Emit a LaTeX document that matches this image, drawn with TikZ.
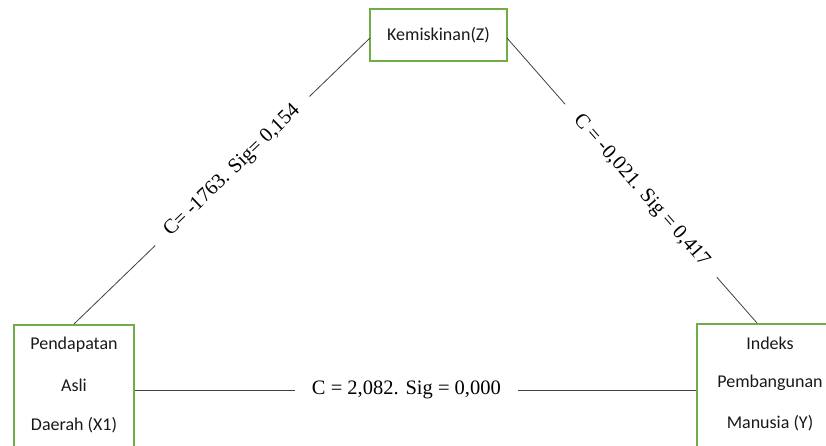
\documentclass[tikz,border=0pt]{standalone}
\usepackage{fontspec}
\setmainfont{Liberation Serif}
\newfontfamily\boxfont{Carlito}
\definecolor{boxgreen}{HTML}{70AD47}
\definecolor{linegray}{HTML}{404040}
\begin{document}
\begin{tikzpicture}[x=1pt,y=-1pt,
  varbox/.style={draw=boxgreen,line width=1.5pt,rectangle,inner sep=0pt,
    font=\boxfont\fontsize{18}{40}\selectfont,align=center,text=black!90},
  boxtext/.style={font=\boxfont\fontsize{18}{20}\selectfont,text=black!90},
  conn/.style={draw=linegray,line width=0.8pt},
  lbl/.style={fill=white,inner xsep=17pt,inner ysep=2pt,
    font=\fontsize{20.5}{24}\selectfont,text=black}]
\useasboundingbox (0,0) rectangle (826,446);
\clip (0,0) rectangle (826,446);
\node[varbox,minimum width=137pt,minimum height=52pt] (Z) at (438.5,35) {Kemiskinan(Z)};
\node[varbox,minimum width=120pt,minimum height=150pt,anchor=north] (X1) at (74,324) {};
\node[varbox,minimum width=150pt,minimum height=150pt,anchor=north west] (Y) at (696,323) {};
\node[boxtext] (x1a) at (74,345) {Pendapatan};
\node[boxtext] (x1b) at (74,385) {Asli};
\node[boxtext] (x1c) at (74,425) {Daerah (X1)};
\node[boxtext] (ya) at (770,343) {Indeks};
\node[boxtext] (yb) at (770,383) {Pembangunan};
\node[boxtext] (yc) at (770,423) {Manusia (Y)};
\coordinate (Yin) at (757,323);
\coordinate (Zl) at (370,38);
\coordinate (Zr) at (507,38);
\draw[conn] (X1.north) -- node[lbl,sloped,pos=0.535] (l1) {C= -1763. Sig= 0,154} (Zl);
\draw[conn] (Zr) -- node[lbl,sloped,pos=0.536] (l2) {C = -0,021. Sig = 0,417} (Yin);
\draw[conn] (X1.east |- 0,390) -- node[lbl,pos=0.484] (l3) {C = 2,082. Sig = 0,000} (Y.west |- 0,390);
\end{tikzpicture}
\end{document}
